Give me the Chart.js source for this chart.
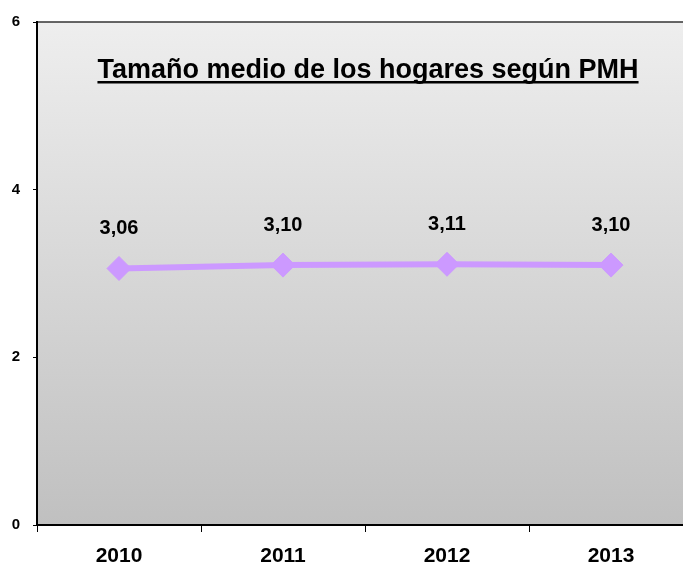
<!DOCTYPE html>
<html>
<head>
<meta charset="utf-8">
<script src="https://cdn.jsdelivr.net/npm/chart.js@4"></script>
<style>
  body { margin: 0; overflow: hidden; background: #fff; }
</style>
</head>
<body>
<canvas id="grafico" width="706" height="566"></canvas>
<script>
const anos = ['2010', '2011', '2012', '2013'];
const tamanoMedio = [3.06, 3.10, 3.11, 3.10];
const ticksY = [0, 2, 4, 6];
const titulo = 'Tamaño medio de los hogares según PMH';

const fondoPlugin = {
    id: 'fondo',
    beforeDraw(chart) {
        const { ctx, chartArea: a } = chart;
        const g = ctx.createLinearGradient(0, a.top, 0, a.bottom);
        g.addColorStop(0, '#eeeeee');
        g.addColorStop(1, '#c0c0c0');
        ctx.save();
        ctx.fillStyle = g;
        ctx.fillRect(a.left, a.top, a.right - a.left, a.bottom - a.top);
        ctx.strokeStyle = '#333';
        ctx.lineWidth = 1.5;
        ctx.beginPath();
        ctx.moveTo(a.left, a.top);
        ctx.lineTo(a.right, a.top);
        ctx.stroke();
        ctx.restore();
    }
};

const textosPlugin = {
    id: 'textos',
    afterDatasetsDraw(chart) {
        const { ctx, chartArea: a } = chart;
        ctx.save();
        ctx.fillStyle = '#000';
        ctx.textAlign = 'center';
        ctx.textBaseline = 'alphabetic';

        ctx.font = 'bold 27px "Liberation Sans", Arial, sans-serif';
        const cx = (a.left + a.right) / 2 + 3;
        ctx.fillText(titulo, cx, 78);
        const w = ctx.measureText(titulo).width;
        ctx.fillRect(cx - w / 2, 81, w, 2.5);

        ctx.textBaseline = 'middle';
        ctx.font = 'bold 20px "Liberation Sans", Arial, sans-serif';
        const meta = chart.getDatasetMeta(0);
        meta.data.forEach((p, i) => {
            ctx.fillText(tamanoMedio[i].toFixed(2).replace('.', ','), p.x, p.y - 40);
        });
        ctx.restore();
    }
};

new Chart(document.getElementById('grafico'), {
    type: 'line',
    data: {
        labels: anos,
        datasets: [{
            data: tamanoMedio,
            borderColor: '#cc99ff',
            backgroundColor: '#cc99ff',
            borderWidth: 6,
            pointStyle: 'rectRot',
            pointRadius: 12,
            pointBorderWidth: 1,
            tension: 0
        }]
    },
    options: {
        responsive: false,
        animation: false,
        layout: { padding: { top: 22, right: 13, left: 0, bottom: 0 } },
        plugins: {
            legend: { display: false },
            tooltip: { enabled: false }
        },
        scales: {
            x: {
                offset: true,
                afterFit(s) { s.height = 41; },
                grid: { offset: true, drawOnChartArea: false, tickLength: 7, color: '#000' },
                border: { color: '#000', width: 2 },
                ticks: {
                    color: '#000',
                    padding: 12,
                    font: { family: '"Liberation Sans", Arial', size: 21, weight: 'bold' }
                }
            },
            y: {
                min: 0,
                max: 6,
                afterFit(s) { s.width = 37; },
                afterBuildTicks(s) { s.ticks = ticksY.map(v => ({ value: v })); },
                grid: { drawOnChartArea: false, tickLength: 4, color: '#000' },
                border: { color: '#000', width: 2 },
                ticks: {
                    color: '#000',
                    padding: 13,
                    font: { family: '"Liberation Sans", Arial', size: 15, weight: 'bold' }
                }
            }
        }
    },
    plugins: [fondoPlugin, textosPlugin]
});
</script>
</body>
</html>
